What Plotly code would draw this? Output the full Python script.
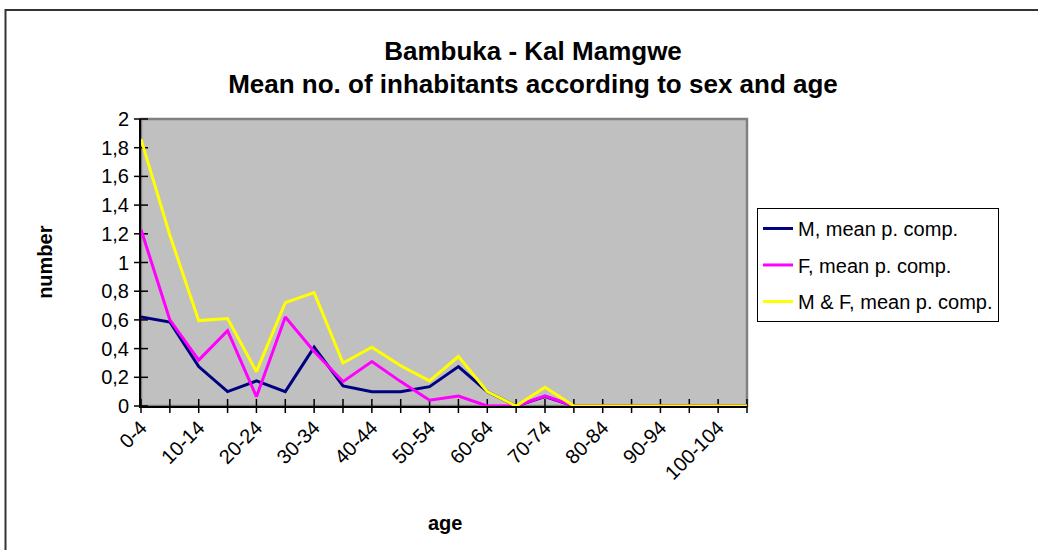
import plotly.graph_objects as go

# Age groups (5-year classes)
age_groups = ["0-4", "5-9", "10-14", "15-19", "20-24", "25-29", "30-34", "35-39",
              "40-44", "45-49", "50-54", "55-59", "60-64", "65-69", "70-74", "75-79",
              "80-84", "85-89", "90-94", "95-99", "100-104", "105-109"]

# Mean number of inhabitants per compound
male = [0.62, 0.585, 0.275, 0.10, 0.175, 0.10, 0.41, 0.14, 0.10, 0.10, 0.135,
        0.275, 0.10, 0.0, 0.065, 0.0, 0.0, 0.0, 0.0, 0.0, 0.0, 0.0]
female = [1.23, 0.60, 0.32, 0.525, 0.065, 0.62, 0.38, 0.17, 0.31, 0.17, 0.04,
          0.07, 0.0, 0.0, 0.07, 0.0, 0.0, 0.0, 0.0, 0.0, 0.0, 0.0]
both = [1.86, 1.19, 0.595, 0.61, 0.24, 0.72, 0.79, 0.30, 0.41, 0.28, 0.175,
        0.345, 0.10, 0.0, 0.13, 0.0, 0.0, 0.0, 0.0, 0.0, 0.0, 0.0]

y_ticks = [0, 0.2, 0.4, 0.6, 0.8, 1, 1.2, 1.4, 1.6, 1.8, 2]
y_tick_text = ["0", "0,2", "0,4", "0,6", "0,8", "1", "1,2", "1,4", "1,6", "1,8", "2"]

series = [
    ("M, mean p. comp.", male, "#000080"),
    ("F, mean p. comp.", female, "#FF00FF"),
    ("M & F, mean p. comp.", both, "#FFFF00"),
]

FONT = "Liberation Sans, Arial, sans-serif"
idx = list(range(len(age_groups)))

fig = go.Figure()

# crossing tick marks on both axes
fig.add_trace(go.Scatter(
    x=idx, y=[0] * len(idx), mode="markers", showlegend=False, hoverinfo="skip",
    cliponaxis=False,
    marker=dict(symbol="line-ns", size=10, line=dict(color="black", width=1.5)),
))
fig.add_trace(go.Scatter(
    x=[0] * len(y_ticks), y=y_ticks, mode="markers", showlegend=False, hoverinfo="skip",
    cliponaxis=False,
    marker=dict(symbol="line-ew", size=10, line=dict(color="black", width=1.5)),
))

for name, vals, color in series:
    fig.add_trace(go.Scatter(
        x=idx, y=vals, mode="lines", name=name, legendgroup=name,
        line=dict(color=color, width=3), cliponaxis=False,
    ))

# plot-area border (grey) and outer chart frame
fig.add_shape(type="rect", xref="paper", yref="paper", x0=0, x1=1, y0=0, y1=1,
              line=dict(color="#808080", width=2.5), layer="below")
fig.add_shape(type="rect", xref="paper", yref="paper",
              x0=-0.2236, x1=1.52, y0=-0.53, y1=1.3798,
              line=dict(color="#333333", width=2))

fig.add_annotation(text="<b>number</b>", xref="paper", yref="paper",
                   x=-0.18, y=0.502, textangle=-90, showarrow=False,
                   font=dict(family=FONT, size=20, color="black"))
fig.add_annotation(text="<b>age</b>", xref="paper", yref="paper",
                   x=0.502, y=-0.4077, yanchor="middle", showarrow=False,
                   font=dict(family=FONT, size=20, color="black"))

fig.update_layout(
    width=1038, height=550,
    margin=dict(l=141, r=291, t=119, b=144),
    paper_bgcolor="white", plot_bgcolor="#C0C0C0",
    font=dict(family=FONT, size=20, color="black"),
    title=dict(
        text="<b>Bambuka - Kal Mamgwe<br>Mean no. of inhabitants according to sex and age</b>",
        x=0.5135, xanchor="center", y=1 - 59.5 / 550, yanchor="middle", yref="container",
        font=dict(family=FONT, size=26, color="black"),
    ),
    legend=dict(
        x=1.0165, y=0.69, xanchor="left", yanchor="top",
        bordercolor="black", borderwidth=1, bgcolor="white",
        font=dict(family=FONT, size=20, color="black"),
        tracegroupgap=7.5,
    ),
    showlegend=True,
)

fig.update_xaxes(
    range=[0, len(age_groups) - 1], tickmode="array",
    tickvals=idx[::2], ticktext=age_groups[::2], tickangle=-45,
    ticks="", showgrid=False, zeroline=False,
    showline=True, linecolor="black", linewidth=2, layer="below traces",
    tickfont=dict(family=FONT, size=20, color="black"),
)
fig.update_yaxes(
    range=[0, 2], tickmode="array", tickvals=y_ticks, ticktext=y_tick_text,
    ticks="", showgrid=False, zeroline=False, ticklabelstandoff=6,
    showline=True, linecolor="black", linewidth=2, layer="below traces",
    tickfont=dict(family=FONT, size=20, color="black"),
)

fig.write_html("out.html")
